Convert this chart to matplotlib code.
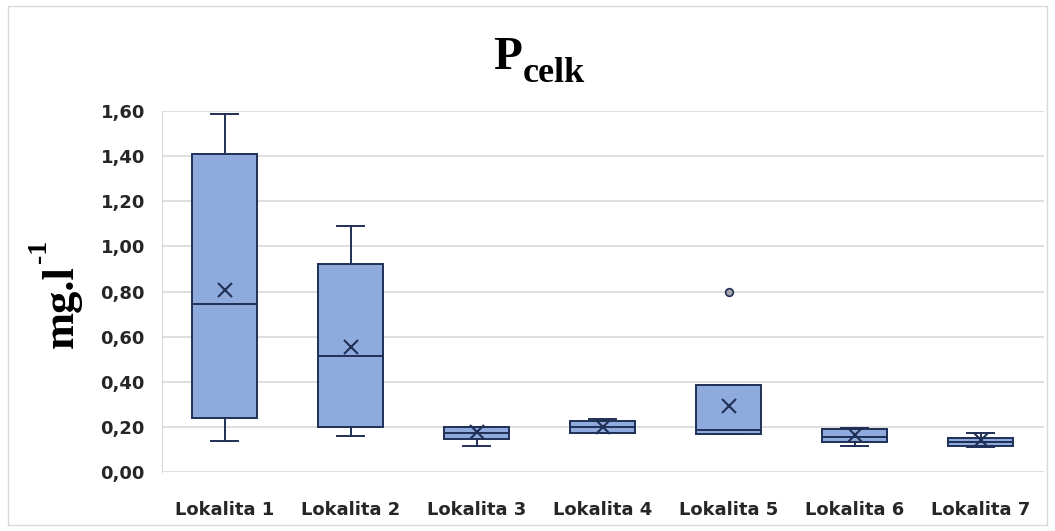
import matplotlib.pyplot as plt
from matplotlib.ticker import FuncFormatter
from matplotlib.patches import Rectangle

# (mg/l)
lokality = ["Lokalita 1", "Lokalita 2", "Lokalita 3", "Lokalita 4",
            "Lokalita 5", "Lokalita 6", "Lokalita 7"]
whisker_low = [0.138, 0.162, 0.118, 0.172, 0.168, 0.118, 0.110]
q1 = [0.240, 0.200, 0.148, 0.172, 0.168, 0.133, 0.117]
median = [0.745, 0.515, 0.175, 0.199, 0.187, 0.158, 0.135]
q3 = [1.410, 0.920, 0.200, 0.228, 0.387, 0.190, 0.153]
whisker_high = [1.584, 1.090, 0.200, 0.235, 0.387, 0.197, 0.172]
mean = [0.807, 0.556, 0.180, 0.200, 0.294, 0.165, 0.143]
outliers = [[], [], [], [], [0.798], [], []]

box_fill = "#8FAADC"
dark = "#1F2F55"

fig = plt.figure(figsize=(10.55, 5.31), dpi=100)
ax = fig.add_axes([161.5 / 1055, 1 - 472.3 / 531, 882 / 1055, 361.6 / 531])

stats = []
for i in range(len(lokality)):
    stats.append(dict(whislo=whisker_low[i], q1=q1[i], med=median[i], q3=q3[i],
                      whishi=whisker_high[i], mean=mean[i], fliers=outliers[i],
                      label=lokality[i]))

ax.bxp(stats, positions=range(len(lokality)), widths=0.52, patch_artist=True,
       showmeans=True,
       boxprops=dict(facecolor=box_fill, edgecolor=dark, linewidth=1.4),
       medianprops=dict(color=dark, linewidth=1.4),
       whiskerprops=dict(color=dark, linewidth=1.4),
       capprops=dict(color=dark, linewidth=1.4),
       capwidths=0.22,
       meanprops=dict(marker="x", markeredgecolor=dark, markersize=10,
                      markeredgewidth=1.5),
       flierprops=dict(marker="o", markerfacecolor="#A6A6A6",
                       markeredgecolor=dark, markersize=5.5, markeredgewidth=1.2))

ax.set_xlim(-0.5, len(lokality) - 0.5)
ax.set_ylim(0, 1.6)
ax.set_yticks([i * 0.2 for i in range(9)])
ax.yaxis.set_major_formatter(FuncFormatter(lambda v, p: f"{v:.2f}".replace(".", ",")))
ax.grid(axis="y", color="#D9D9D9", linewidth=1.2)
ax.set_axisbelow(True)
for s in ["top", "right", "bottom"]:
    ax.spines[s].set_visible(False)
ax.spines["left"].set_color("#D9D9D9")
ax.set_xticks(range(len(lokality)))
ax.set_xticklabels(lokality)
for lab in ax.get_xticklabels() + ax.get_yticklabels():
    lab.set_fontfamily("DejaVu Sans")
    lab.set_fontweight("bold")
    lab.set_fontsize(13)
    lab.set_color("#262626")
ax.tick_params(axis="y", length=0, pad=12)
ax.tick_params(axis="x", length=0, pad=21)

# title P with subscript celk
fig.text(522 / 1055, 1 - 69 / 531, "P", fontsize=34, fontfamily="Liberation Serif",
         fontweight="bold", ha="right", va="baseline")
fig.text(523 / 1055, 1 - 82 / 531, "celk", fontsize=26, fontfamily="Liberation Serif",
         fontweight="bold", ha="left", va="baseline")

# y axis label mg.l with superscript -1
fig.text(73 / 1055, 1 - 348 / 531, "mg.l", fontsize=32, fontfamily="Liberation Serif",
         fontweight="bold", rotation=90, rotation_mode="anchor",
         ha="left", va="baseline")
fig.text(46 / 1055, 1 - 263 / 531, "-1", fontsize=20, fontfamily="Liberation Serif",
         fontweight="bold", rotation=90, rotation_mode="anchor",
         ha="left", va="baseline")

fig.patches.append(Rectangle((8 / 1055, 6 / 531), 1 - 16 / 1055, 1 - 12 / 531,
                             transform=fig.transFigure, fill=False,
                             edgecolor="#D9D9D9", linewidth=1.0))

fig.savefig("out.png", dpi=100)
